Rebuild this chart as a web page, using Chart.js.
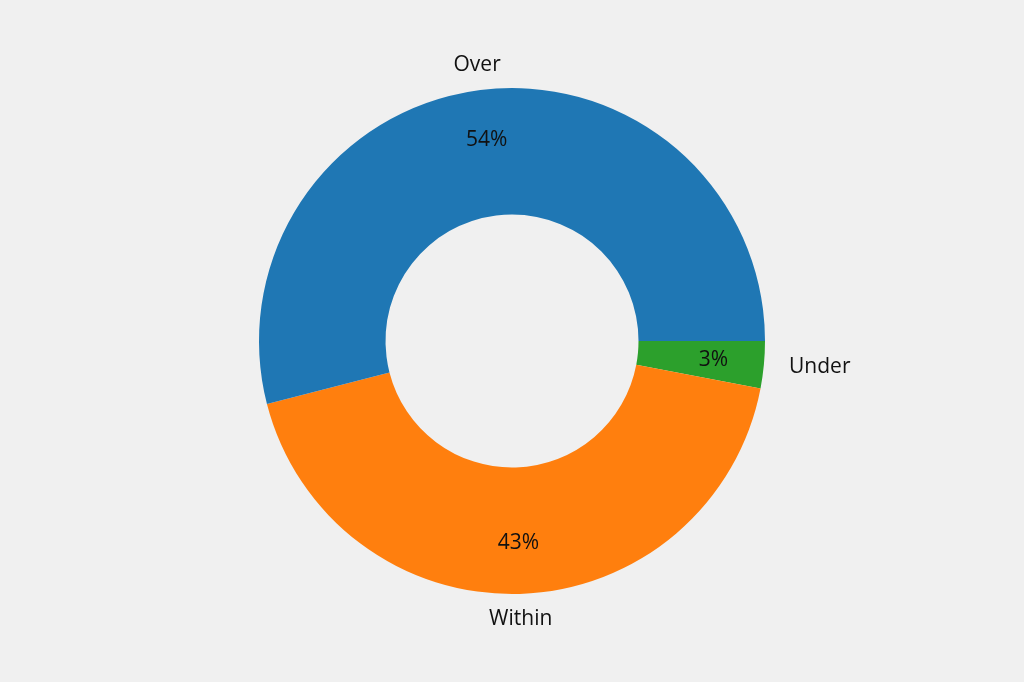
<!DOCTYPE html>
<html>
<head>
<meta charset="utf-8">
<script src="https://cdn.jsdelivr.net/npm/chart.js@4"></script>
<style>
  html, body { margin: 0; padding: 0; background: #f0f0f0; }
  #wrap { width: 1024px; height: 682px; }
</style>
</head>
<body>
<div id="wrap"><canvas id="donut"></canvas></div>
<script>
// drawn clockwise from east so it reads like the counter-clockwise original
var categories = ['Under', 'Within', 'Over'];
var shares = [3, 43, 54];
var colors = ['#2ca02c', '#ff7f0e', '#1f77b4'];

var sliceLabels = {
  id: 'sliceLabels',
  afterDatasetsDraw: function (chart) {
    var ctx = chart.ctx;
    var meta = chart.getDatasetMeta(0);
    var total = shares.reduce(function (a, b) { return a + b; }, 0);
    ctx.save();
    ctx.fillStyle = '#111';
    ctx.font = '21px "Open Sans", sans-serif';
    ctx.textBaseline = 'middle';
    meta.data.forEach(function (arc, i) {
      var mid = (arc.startAngle + arc.endAngle) / 2;
      var r = arc.outerRadius;
      var cos = Math.cos(mid), sin = Math.sin(mid);
      ctx.textAlign = 'center';
      var pct = Math.round(shares[i] / total * 100) + '%';
      ctx.fillText(pct, arc.x + cos * r * 0.8, arc.y + sin * r * 0.8);
      ctx.textAlign = Math.abs(cos) < 0.3 ? 'center' : (cos > 0 ? 'left' : 'right');
      ctx.fillText(categories[i], arc.x + cos * r * 1.1, arc.y + sin * r * 1.1);
    });
    ctx.restore();
  }
};

var ctx = document.getElementById('donut').getContext('2d');
var donutChart = new Chart(ctx, {
  type: 'doughnut',
  data: {
    labels: categories,
    datasets: [{
      data: shares,
      backgroundColor: colors,
      borderWidth: 0,
    }],
  },
  options: {
    responsive: true,
    maintainAspectRatio: false,
    animation: false,
    rotation: 90,
    cutout: '50%',
    layout: { padding: 88 },
    plugins: {
      legend: { display: false },
      tooltip: { enabled: false },
    },
  },
  plugins: [sliceLabels],
});
</script>
</body>
</html>
